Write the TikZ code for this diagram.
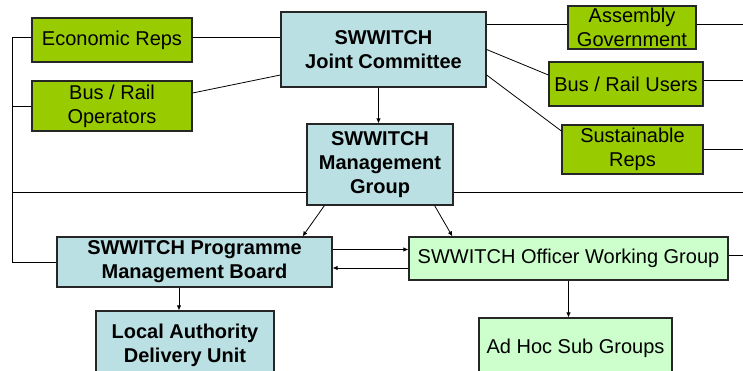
\documentclass[tikz,border=0pt]{standalone}
\usepackage{fontspec}
\setmainfont{Liberation Sans}
\usetikzlibrary{positioning}
\usetikzlibrary{arrows.meta}

\definecolor{repgreen}{HTML}{99CC00}
\definecolor{grpblue}{HTML}{BBE0E3}
\definecolor{palegreen}{HTML}{CCFFCC}

\begin{document}
\begin{tikzpicture}[x=1pt,y=-1pt,
  box/.style={draw=black!85,line width=1.2pt,inner sep=0pt,align=center,
    font=\fontsize{20}{24}\selectfont},
  repbox/.style={box,fill=repgreen},
  grpbox/.style={box,fill=grpblue,font=\fontsize{20}{24}\selectfont\bfseries},
  wrkbox/.style={box,fill=palegreen},
  link/.style={line width=0.8pt},
  arr/.style={link,-{Latex[length=5pt,width=4.5pt]}}]
 \useasboundingbox (0,0) rectangle (743,371);
 \clip (0,0) rectangle (743,371);
 % boxes
 \node[repbox,minimum width=160pt,minimum height=44pt] (econ) at (112,40) {Economic Reps};
 \node[repbox,minimum width=160pt,minimum height=50pt] (busop) at (112,106) {Bus / Rail\\Operators};
 \node[grpbox,minimum width=205pt,minimum height=75pt] (jc) at (383.5,49.5) {SWWITCH\\Joint Committee};
 \node[grpbox,minimum width=146pt,minimum height=81pt] (mg) at (380,164.5) {SWWITCH\\Management\\Group};
 \node[repbox,minimum width=128pt,minimum height=43pt] (assembly) at (632,27.5) {Assembly\\Government};
 \node[repbox,minimum width=154pt,minimum height=44pt] (users) at (626,84) {Bus / Rail Users};
 \node[repbox,minimum width=141pt,minimum height=49pt] (sust) at (632.5,149.5) {Sustainable\\Reps};
 \node[grpbox,minimum width=275pt,minimum height=50pt] (pmb) at (194.5,262) {SWWITCH Programme\\Management Board};
 \node[grpbox,minimum width=178pt,minimum height=68pt] (ladu) at (185,345) {Local Authority\\Delivery Unit};
 \node[wrkbox,minimum width=319pt,minimum height=43pt] (owg) at (568.5,258.5) {SWWITCH Officer Working Group};
 \node[wrkbox,minimum width=193pt,minimum height=60pt] (adhoc) at (575.5,348) {Ad Hoc Sub Groups};
 % free ends
 \coordinate (busN) at (12,37);
 \coordinate (busS) at (12,262);
 \coordinate (edge) at (743,0);
 \coordinate (mgL) at ([yshift=13pt]mg.south west);
 % left bus
 \draw[link] (busN) -- (busS);
 \draw[link] (busN) -- ([yshift=3pt]econ.west);
 \draw[link] (busN |- busop.west) -- (busop.west);
 \draw[link] (busN |- mgL) -- (mgL);
 \draw[link] (busS) -- (pmb.west);
 % reps to committee
 \draw[link] ([yshift=3pt]econ.east) -- ([yshift=3pt]econ.east -| jc.west);
 \draw[link] ([yshift=13pt]busop.east) -- ([yshift=-25.5pt]jc.west);
 \draw[link] ([yshift=3.5pt]assembly.west -| jc.east) -- ([yshift=3.5pt]assembly.west);
 \draw[link] (jc.east) -- ([yshift=9pt]users.west);
 \draw[link] ([yshift=-25.5pt]jc.east) -- ([yshift=18.5pt]sust.west);
 % right edge
 \draw[link] ([yshift=3.5pt]assembly.east) -- ([yshift=3.5pt]assembly.east -| edge);
 \draw[link] ([yshift=4pt]users.east) -- ([yshift=4pt]users.east -| edge);
 \draw[link] (sust.east) -- (sust.east -| edge);
 \draw[link] (mgL -| mg.east) -- (mgL -| edge);
 \draw[link] ([yshift=3.5pt]owg.east) -- ([yshift=3.5pt]owg.east -| edge);
 % arrows
 \draw[arr] ([xshift=-5pt]jc.south) -- ([xshift=-5pt]jc.south |- mg.north);
 \draw[arr] ([xshift=18pt]mg.south west) -- ([xshift=-30pt]pmb.north east);
 \draw[arr] ([xshift=-19pt]mg.south east) -- ([xshift=44pt]owg.north west);
 \draw[arr] ([yshift=12.5pt]pmb.east) -- ([yshift=12.5pt]pmb.east -| owg.west);
 \draw[arr] ([yshift=-6pt]pmb.east -| owg.west) -- ([yshift=-6pt]pmb.east);
 \draw[arr] ([xshift=-6pt]ladu.north |- pmb.south) -- ([xshift=-6pt]ladu.north);
 \draw[arr] (owg.south) -- (owg.south |- adhoc.north);
\end{tikzpicture}
\end{document}
